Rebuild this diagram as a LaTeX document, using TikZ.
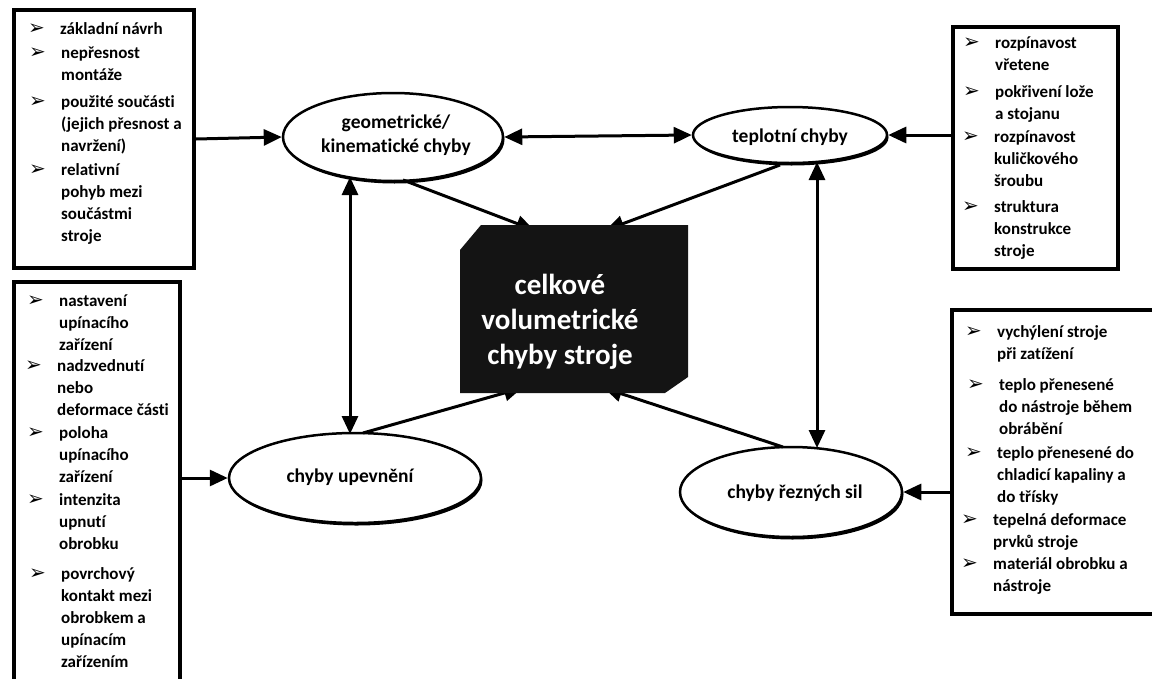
\documentclass[tikz,border=0pt]{standalone}
\usepackage{fontspec}
\setmainfont{Carlito}[Ligatures=CommonOff]
\newfontfamily\dvsym{DejaVu Sans}
\usetikzlibrary{arrows.meta,shapes.geometric,shadows}
\begin{document}
\begin{tikzpicture}[x=1pt,y=-1pt,
  tbox/.style={draw, line width=4pt, inner sep=0pt, anchor=north west},
  ell/.style={ellipse, draw, line width=2.5pt, fill=white, inner sep=0pt,
    drop shadow={opacity=1, fill=black, shadow xshift=1.5pt, shadow yshift=-2.5pt}},
  elab/.style={align=center, inner sep=0pt, font=\bfseries\fontsize{19.5}{24}\selectfont},
  itxt/.style={anchor=base west, inner sep=0pt,
    font=\bfseries\fontsize{17}{22}\selectfont},
  bul/.style={anchor=base west, inner sep=0pt, font=\dvsym\fontsize{20}{20}\selectfont},
  arr/.style={line width=3pt, -{Triangle[length=18pt,width=16pt]}},
  darr/.style={line width=3pt, {Triangle[length=18pt,width=16pt]}-{Triangle[length=18pt,width=16pt]}},
]
\clip (0,0) rectangle (1152,678);
\fill[white] (0,0) rectangle (1152,678);

% boxes
\node[tbox, minimum width=180pt, minimum height=258pt] (tlbox) at (12,8) {};
\node[tbox, minimum width=166pt, minimum height=430pt] (blbox) at (12,280) {};
\node[tbox, minimum width=165pt, minimum height=242pt] (trbox) at (951,25) {};
\node[tbox, minimum width=220pt, minimum height=304pt] (brbox) at (950,308) {};

% items
\newcommand\itm[4]{%
  \node[bul] (#1b) at (#2-32,#3) {➢};
  \node[itxt] (#1) at (#2,#3) {\begin{tabular}[t]{@{}l@{}}#4\end{tabular}};}
\itm{a1}{60}{34}{základní návrh}
\itm{a2}{61}{58}{nepřesnost\\montáže}
\itm{a3}{61}{107}{použité součásti\\(jejich přesnost a\\navržení)}
\itm{a4}{61}{175}{relativní\\pohyb mezi\\součástmi\\stroje}

\itm{b1}{59}{306}{nastavení\\upínacího\\zařízení}
\itm{b2}{57}{371}{nadzvednutí\\nebo\\deformace části}
\itm{b3}{59}{438}{poloha\\upínacího\\zařízení}
\itm{b4}{59}{505}{intenzita\\upnutí\\obrobku}
\itm{b5}{61}{579}{povrchový\\kontakt mezi\\obrobkem a\\upínacím\\zařízením}

\itm{c1}{995}{48}{rozpínavost\\vřetene}
\itm{c2}{995}{97}{pokřivení lože\\a stojanu}
\itm{c3}{994}{142}{rozpínavost\\kuličkového\\šroubu}
\itm{c4}{994}{212}{struktura\\konstrukce\\stroje}

\itm{d1}{997}{337}{vychýlení stroje\\při zatížení}
\itm{d2}{999}{390}{teplo přenesené\\do nástroje během\\obrábění}
\itm{d3}{997}{458}{teplo přenesené do\\chladicí kapaliny a\\do třísky}
\itm{d4}{993}{525}{tepelná deformace\\prvků stroje}
\itm{d5}{993}{569}{materiál obrobku a\\nástroje}

% ellipses
\node[ell, minimum width=220pt, minimum height=88pt] (geo) at (393,137) {};
\node[ell, minimum width=194pt, minimum height=56pt] (tep) at (790,135) {};
\node[ell, minimum width=252pt, minimum height=90pt] (upe) at (355,478) {};
\node[ell, minimum width=222pt, minimum height=90pt] (rez) at (791,492) {};
\node[elab] (geol) at (396,135) {geometrické/\\kinematické chyby};
\node[elab] (tepl) at (790,137) {teplotní chyby};
\node[elab] (upel) at (350,477) {chyby upevnění};
\node[elab] (rezl) at (795,493) {chyby řezných sil};

% connector end points
\coordinate (gS1) at (403,180);
\coordinate (cN1) at (534,230);
\coordinate (tS1) at (780,165);
\coordinate (cN2) at (606,230);
\coordinate (uN1) at (363,433);
\coordinate (cS1) at (522,388);
\coordinate (rN1) at (783,447);
\coordinate (cS2) at (604,388);
\coordinate (gV) at (350,177);
\coordinate (uV) at (350,434);
\coordinate (tV) at (817,162);
\coordinate (rV) at (817,448);

% arrows
\draw[arr] (tlbox.east) -- (geo.west);
\draw[arr] (blbox.east |- upe.west) -- (upe.west);
\draw[arr] (tep.east -| trbox.west) -- (tep.east);
\draw[arr] (rez.east -| brbox.west) -- (rez.east);
\draw[darr] (geo.east) -- (tep.west);
\draw[darr] (gV) -- (uV);
\draw[darr] (tV) -- (rV);
\draw[arr] (gS1) -- (cN1);
\draw[arr] (tS1) -- (cN2);
\draw[arr] (uN1) -- (cS1);
\draw[arr] (rN1) -- (cS2);

% central box
\fill[black!92] (481,225) -- (688,225) -- (688,377) -- (665,393) -- (460,393) -- (460,250) -- cycle;
\node[text=white, align=center, inner sep=0pt, font=\bfseries\fontsize{29}{35}\selectfont] (cen) at (560,322) {celkové\\volumetrické\\chyby stroje};
\end{tikzpicture}
\end{document}
